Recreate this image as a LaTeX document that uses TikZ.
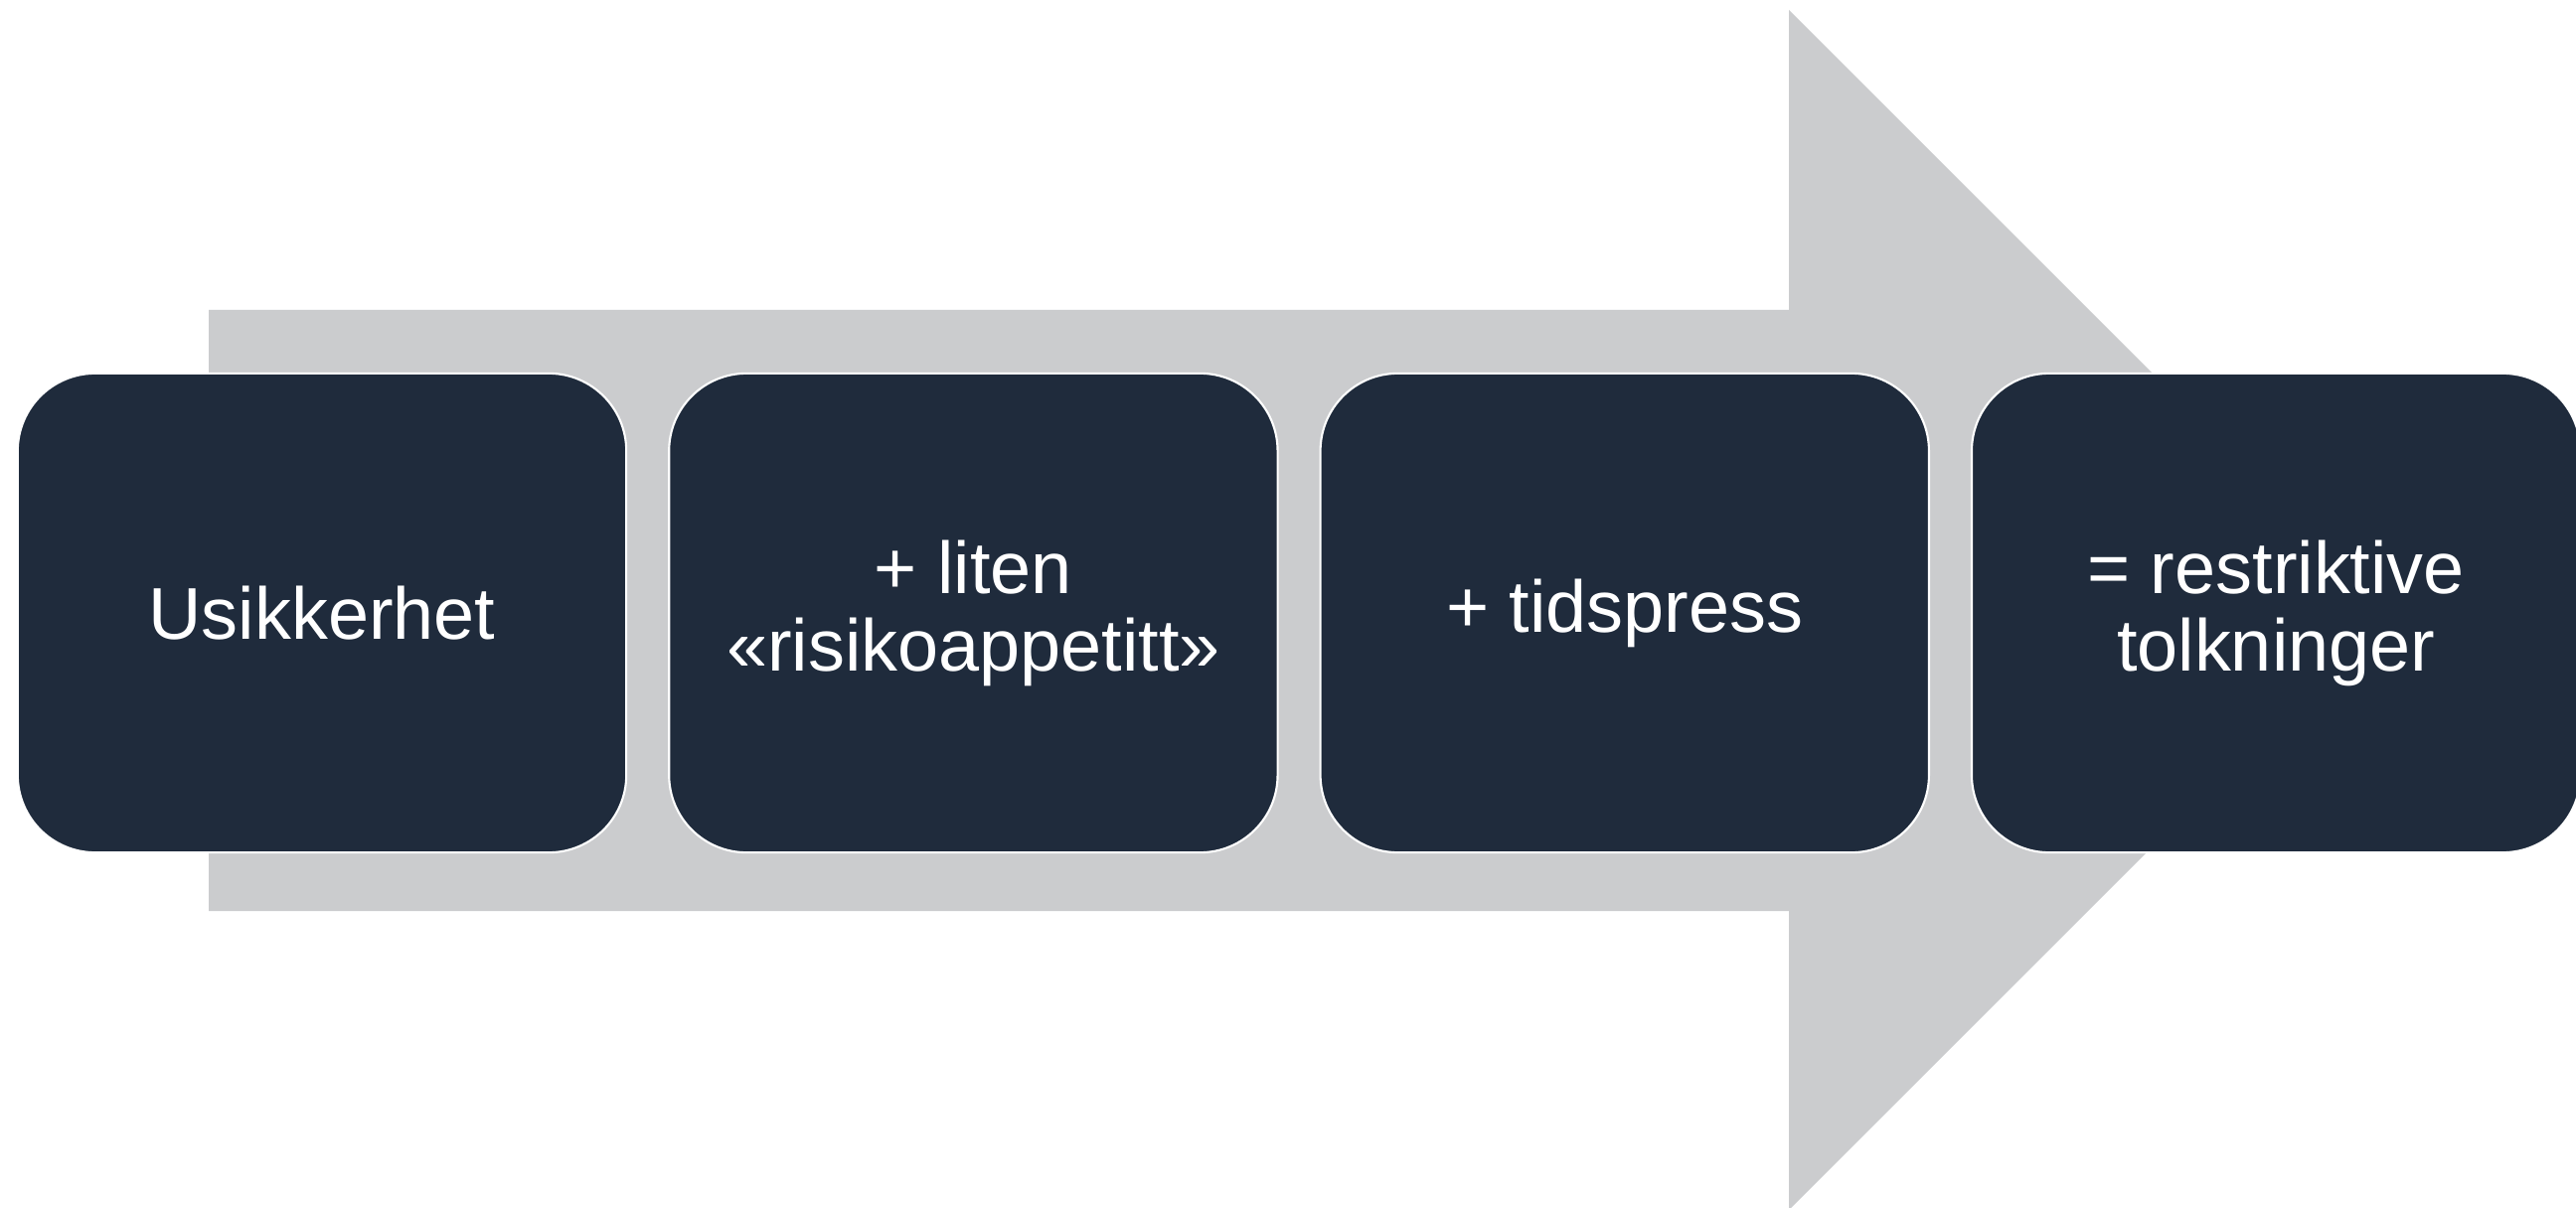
\documentclass[tikz,border=0pt]{standalone}
\usepackage{fontspec}
\setsansfont{Liberation Sans}
\usetikzlibrary{positioning}
\definecolor{navy}{HTML}{1F2B3C}
\definecolor{arrowgray}{HTML}{CBCCCE}
\begin{document}
\begin{tikzpicture}[
    x=0.01cm, y=-0.01cm,
    node distance=0.43cm,
    stage/.style={rectangle, draw=white, line width=0.6pt, fill=navy, rounded corners=0.78cm, minimum width=6.12cm, minimum height=4.82cm, outer sep=0pt, inner sep=0pt, align=center, text=white, font=\sffamily\fontsize{21}{22.2}\selectfont},
    bigarrow/.style={fill=arrowgray, draw=none}
]
\clip (0,0) rectangle (2592,1216);

% Arrow behind the stages
\fill[bigarrow] (210,312) -- (1800,312) -- (1800,10) -- (2404,614) -- (1800,1218) -- (1800,917) -- (210,917) -- cycle;

% Stages
\node[stage] (usikkerhet) at (324,617) {Usikkerhet};
\node[stage, right=of usikkerhet] (liten) {+ liten\\«risikoappetitt»};
\node[stage, right=of liten] (tidspress) {+ tidspress};
\node[stage, right=of tidspress] (tolkninger) {= restriktive\\tolkninger};

\end{tikzpicture}
\end{document}
